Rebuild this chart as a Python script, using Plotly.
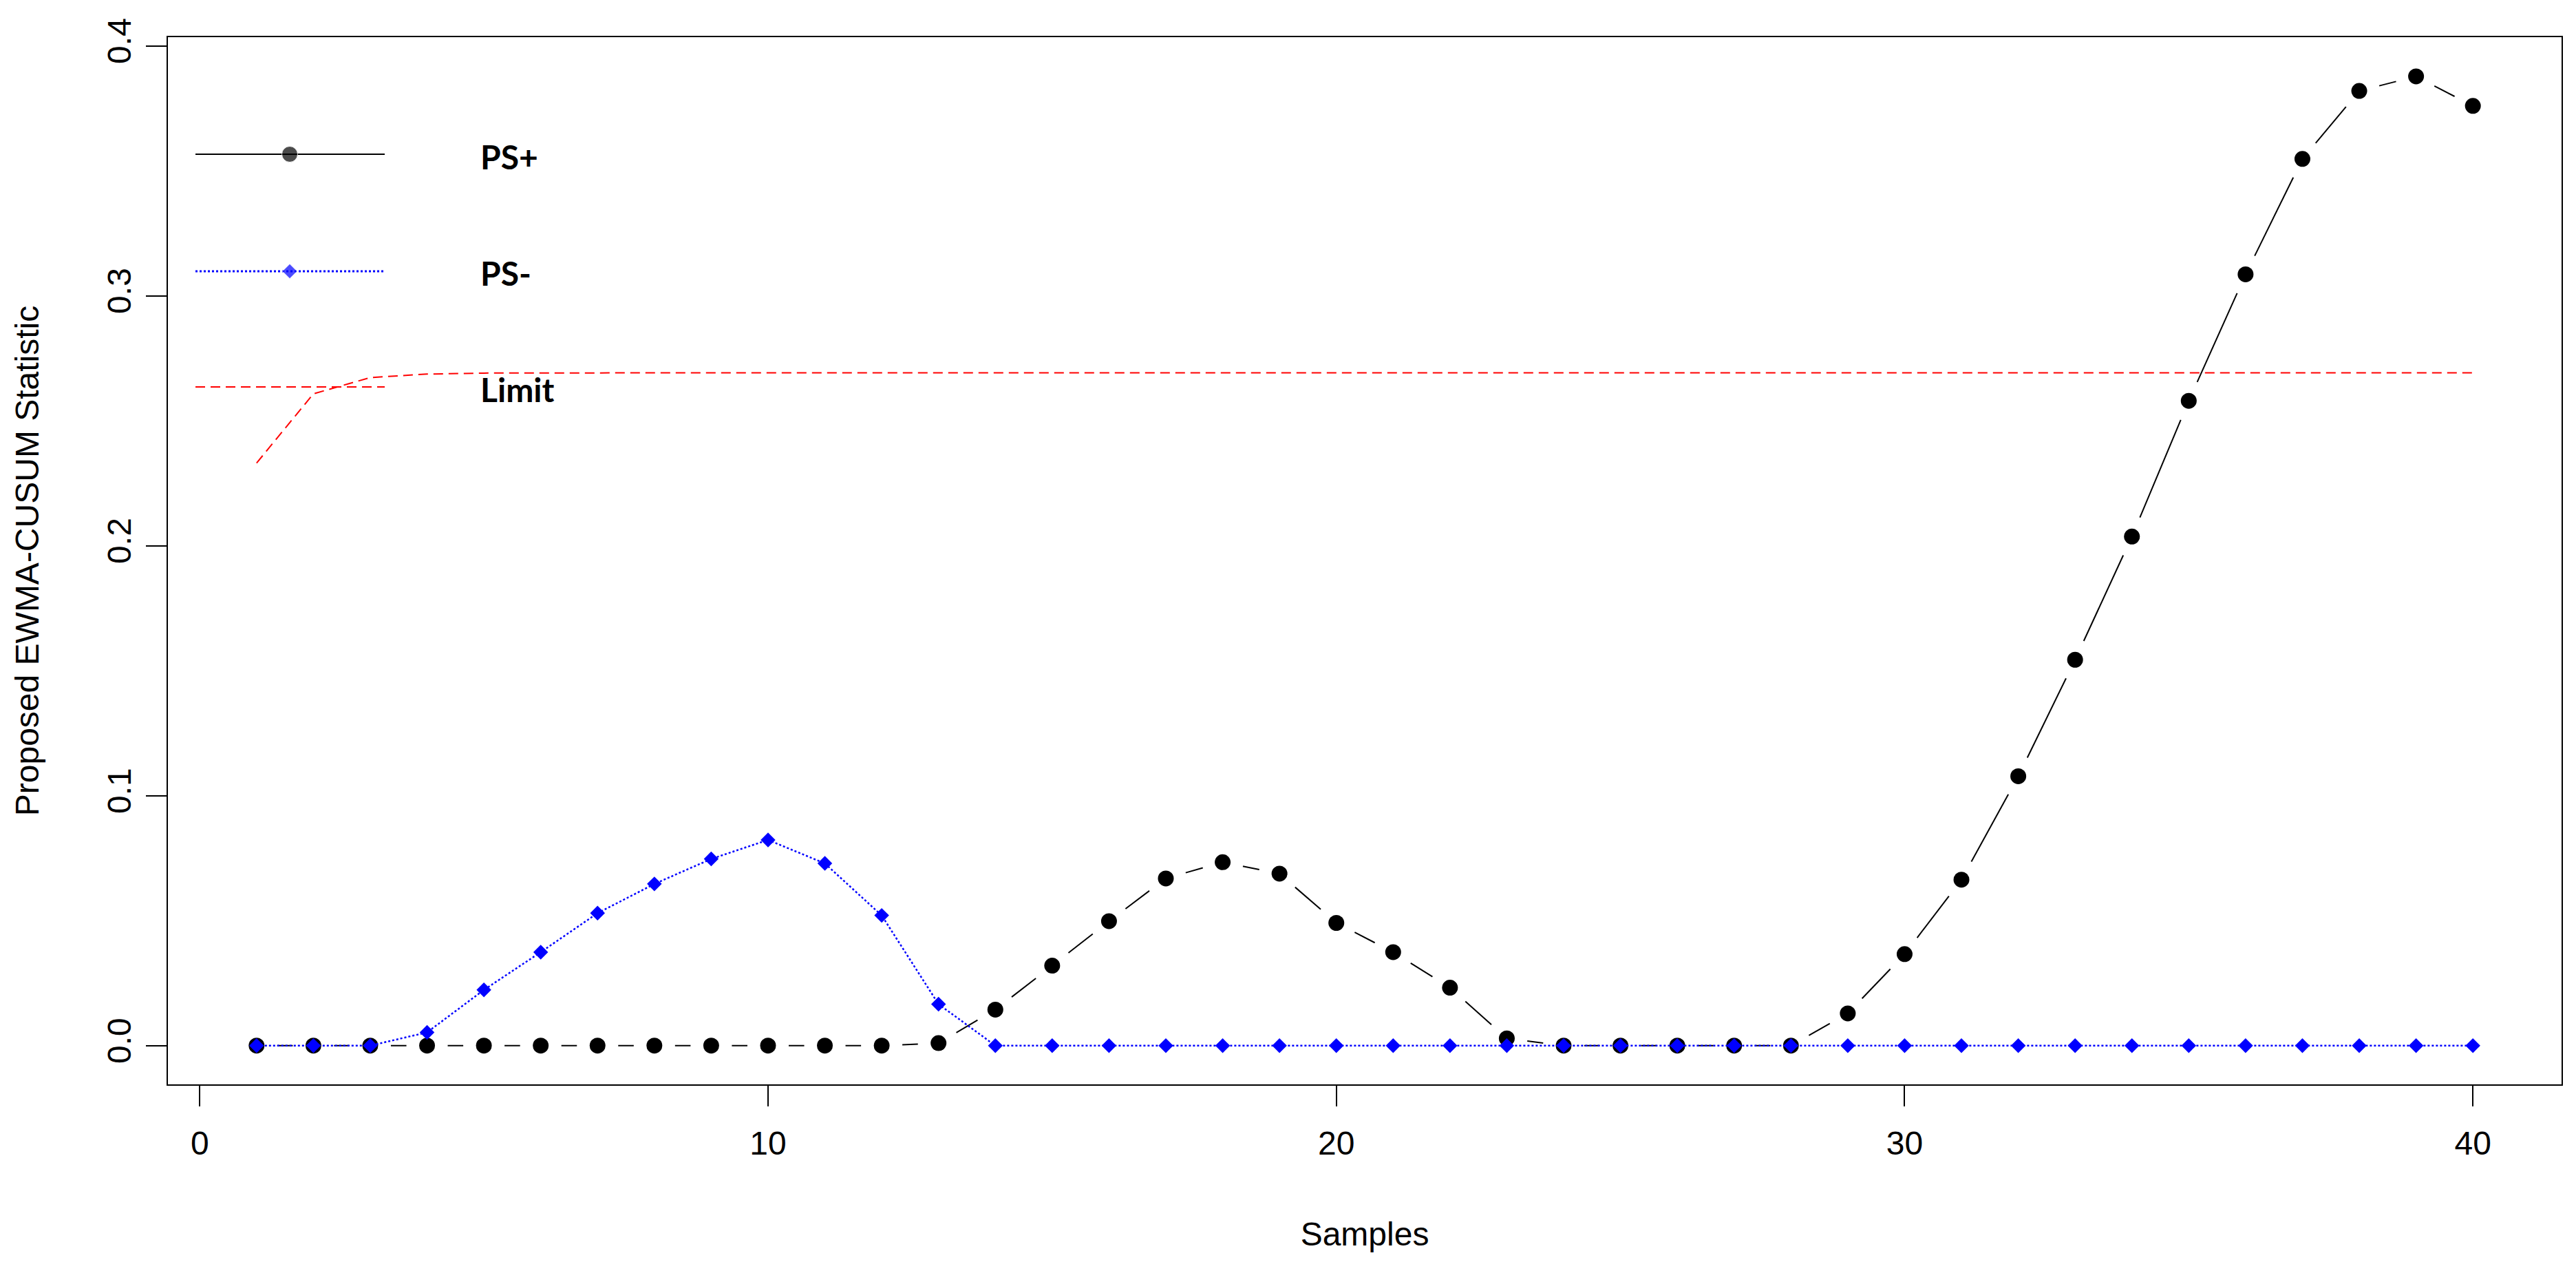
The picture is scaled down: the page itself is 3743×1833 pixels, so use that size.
import math
import plotly.graph_objects as go

# ---------------- data ----------------
samples = list(range(1, 41))
ps_plus = [0, 0, 0, 0, 0, 0, 0, 0, 0, 0,
           0, 0, 0.001, 0.0144, 0.032, 0.0498, 0.0669, 0.0734, 0.0688, 0.0491,
           0.0374, 0.0232, 0.0029, 0, 0, 0, 0, 0, 0.0129, 0.0366,
           0.0664, 0.1078, 0.1544, 0.2037, 0.258, 0.3086, 0.3548, 0.382, 0.3878, 0.376]
ps_minus = [0, 0, 0, 0.0053, 0.0223, 0.0374, 0.053, 0.0647, 0.0747, 0.0823,
            0.0729, 0.0521, 0.0166, 0, 0, 0, 0, 0, 0, 0,
            0, 0, 0, 0, 0, 0, 0, 0, 0, 0,
            0, 0, 0, 0, 0, 0, 0, 0, 0, 0]
limit = [0.2331, 0.2608, 0.2673, 0.2687, 0.2691, 0.2692, 0.2692, 0.2692, 0.2692, 0.2692,
         0.2692, 0.2692, 0.2692, 0.2692, 0.2692, 0.2692, 0.2692, 0.2692, 0.2692, 0.2692,
         0.2692, 0.2692, 0.2692, 0.2692, 0.2692, 0.2692, 0.2692, 0.2692, 0.2692, 0.2692,
         0.2692, 0.2692, 0.2692, 0.2692, 0.2692, 0.2692, 0.2692, 0.2692, 0.2692, 0.2692]
x_ticks = [0, 10, 20, 30, 40]
y_ticks = [0.0, 0.1, 0.2, 0.3, 0.4]
y_tick_labels = ["0.0", "0.1", "0.2", "0.3", "0.4"]
series_names = ["PS+", "PS-", "Limit"]
x_title = "Samples"
y_title = "Proposed EWMA-CUSUM Statistic"

# ---------------- layout geometry (image pixels) ----------------
W, H = 3743, 1833
BODY = 8                      # default page margin of the html body
ML, MR, MT, MB = 244, 21, 54, 258
XR = [-0.56, 41.56]
YR = [-0.0155, 0.4035]
FONT = "Liberation Sans, Arial, sans-serif"
LEGFONT = "Lato, Liberation Sans, sans-serif"


def gapped_line(xs, ys, gap_px):
    """R type='b' style: line segments that stop short of the points."""
    pw, ph = W - ML - MR, H - MT - MB
    sx = pw / (XR[1] - XR[0])
    sy = ph / (YR[1] - YR[0])
    ox, oy = [], []
    for i in range(len(xs) - 1):
        ddx, ddy = xs[i + 1] - xs[i], ys[i + 1] - ys[i]
        L = math.hypot(ddx * sx, ddy * sy)
        if L <= 2 * gap_px:
            continue
        f = gap_px / L
        ox += [xs[i] + ddx * f, xs[i + 1] - ddx * f, None]
        oy += [ys[i] + ddy * f, ys[i + 1] - ddy * f, None]
    return ox, oy


fig = go.Figure()

# PS+ : black line with gaps + filled circles
gx, gy = gapped_line(samples, ps_plus, 30)
fig.add_trace(go.Scatter(x=gx, y=gy, mode="lines", line=dict(color="black", width=2),
                         showlegend=False, hoverinfo="skip"))
fig.add_trace(go.Scatter(x=samples, y=ps_plus, mode="markers", name=series_names[0],
                         marker=dict(symbol="circle", size=23, color="black"),
                         showlegend=False))
# PS- : blue dotted line with diamonds
fig.add_trace(go.Scatter(x=samples, y=ps_minus, mode="lines+markers", name=series_names[1],
                         line=dict(color="#0000FF", width=2.5, dash="dot"),
                         marker=dict(symbol="diamond", size=16.5, color="#0000FF"),
                         showlegend=False))
# Limit : red dashed
fig.add_trace(go.Scatter(x=samples, y=limit, mode="lines", name=series_names[2],
                         line=dict(color="#FF0000", width=2, dash="14px,8px"),
                         showlegend=False))

# ---------------- hand-drawn legend (overlay axis in image-pixel units) ----------------
leg_x = [284, 421, 559]
leg_rows = [224, 394, 562]
fig.add_trace(go.Scatter(x=leg_x, y=[leg_rows[0]] * 3, xaxis="x2", yaxis="y2",
                         mode="lines+markers", line=dict(color="black", width=2),
                         marker=dict(symbol="circle", size=[0, 23, 0], color="black"),
                         showlegend=False, hoverinfo="skip"))
fig.add_trace(go.Scatter(x=leg_x, y=[leg_rows[1]] * 3, xaxis="x2", yaxis="y2",
                         mode="lines+markers", line=dict(color="#0000FF", width=3, dash="dot"),
                         marker=dict(symbol="diamond", size=[0, 16.5, 0], color="#0000FF"),
                         showlegend=False, hoverinfo="skip"))
fig.add_trace(go.Scatter(x=[leg_x[0], leg_x[2]], y=[leg_rows[2]] * 2, xaxis="x2", yaxis="y2",
                         mode="lines", line=dict(color="#FF0000", width=2, dash="14px,8px"),
                         showlegend=False, hoverinfo="skip"))
for name, yy in zip(series_names, [227, 396, 565]):
    fig.add_annotation(x=696, y=yy, xref="x2", yref="y2", text=name, showarrow=False,
                       xanchor="left", yanchor="middle",
                       font=dict(family=LEGFONT, size=48, color="black", weight="bold"))

axis_common = dict(showgrid=False, zeroline=False, showline=True, linecolor="black",
                   linewidth=2, mirror=True, ticks="outside", ticklen=30, tickwidth=1.5,
                   tickcolor="black", tickfont=dict(family=FONT, size=48, color="black"))

fig.update_layout(
    width=W - 2 * BODY, height=H - 2 * BODY, autosize=False,
    margin=dict(l=ML - BODY, r=MR - BODY, t=MT - BODY, b=MB - BODY, pad=0),
    paper_bgcolor="white", plot_bgcolor="white",
    showlegend=False,
    xaxis=dict(range=XR, tickvals=x_ticks, ticklabelstandoff=12,
               title=dict(text=x_title, font=dict(family=FONT, size=48, color="black"), standoff=90),
               **axis_common),
    yaxis=dict(range=YR, tickvals=y_ticks, ticktext=y_tick_labels, tickangle=-90,
               ticklabelstandoff=3,
               title=dict(text=y_title, font=dict(family=FONT, size=48, color="black"), standoff=75),
               **axis_common),
    xaxis2=dict(range=[ML, W - MR], overlaying="x", anchor="y2", visible=False),
    yaxis2=dict(range=[H - MB, MT], overlaying="y", anchor="x2", visible=False),
)

fig.write_html("out.html")
